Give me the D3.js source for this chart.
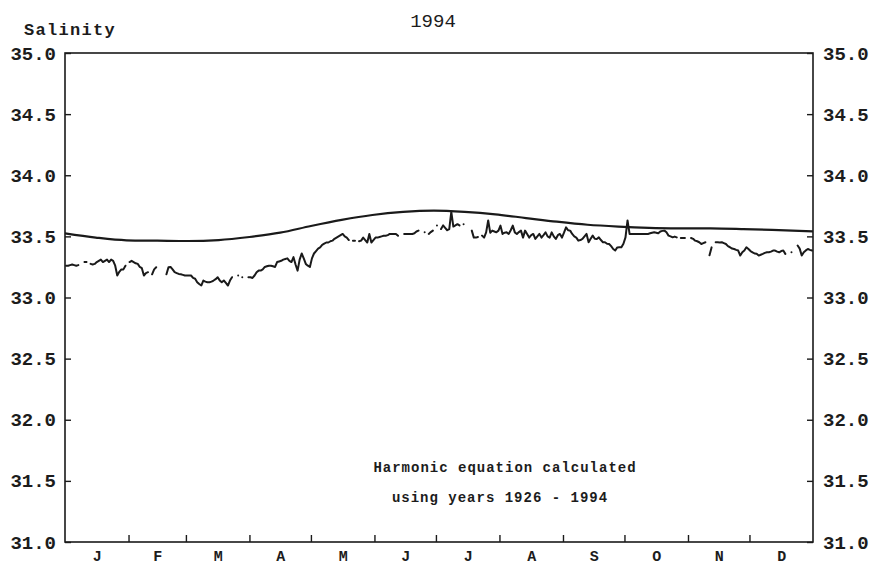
<!DOCTYPE html>
<html>
<head>
<meta charset="utf-8">
<script src="https://cdn.jsdelivr.net/npm/d3@7"></script>
<style>
  body { margin: 0; background: #fff; }
  svg text { font-family: "Liberation Mono", "DejaVu Sans Mono", monospace; fill: #1c1c1c; }
</style>
</head>
<body>
<svg width="871" height="567"></svg>
<script>
// month letters and the day each month starts (non leap year)
var months = ["J", "F", "M", "A", "M", "J", "J", "A", "S", "O", "N", "D"];
var monthStarts = [0, 31, 59, 90, 120, 151, 181, 212, 243, 273, 304, 334, 365];
var yTicks = [31.0, 31.5, 32.0, 32.5, 33.0, 33.5, 34.0, 34.5, 35.0];

// harmonic curve (1926-1994), read every 15 days
var harmonicDays = [0, 15, 30, 45, 60, 75, 90, 105, 120, 135, 150, 165, 180, 195, 210, 225, 240, 255, 270, 285, 300, 315, 330, 345, 365];
var harmonicVals = [33.525, 33.49, 33.468, 33.465, 33.462, 33.47, 33.495, 33.53, 33.585, 33.635, 33.675, 33.70, 33.71, 33.70, 33.68, 33.65, 33.62, 33.595, 33.58, 33.57, 33.566, 33.565, 33.56, 33.553, 33.54];

// daily salinity 1994, null = no observation
var daily = [
  33.26, 33.26, 33.265, 33.27, 33.265, 33.26, 33.265, null, null, 33.29,
  33.29, null, 33.275, 33.27, 33.275, 33.29, 33.30, 33.31, 33.29, 33.30,
  33.31, 33.29, 33.31, 33.30, 33.26, 33.18, 33.21, 33.23, 33.23, 33.26,
  null, 33.29, 33.30, 33.29, 33.28, 33.275, 33.25, 33.24, 33.18, 33.20,
  33.207, null, 33.19, 33.23, 33.247, null, null, null, null, 33.19,
  33.247, 33.25, 33.23, 33.207, 33.20, 33.193, 33.19, 33.185, 33.18, 33.18,
  33.18, 33.18, 33.16, 33.153, 33.125, 33.11, 33.098, 33.139, 33.13, 33.125,
  33.125, 33.13, 33.139, 33.15, 33.166, 33.14, 33.125, 33.139, 33.12, 33.098,
  33.139, 33.166, null, null, 33.18, null, 33.166, null, null, 33.166,
  33.166, 33.16, 33.18, 33.207, 33.22, 33.22, 33.23, 33.25, 33.255, 33.26,
  33.26, 33.255, 33.25, 33.29, 33.295, 33.30, 33.31, 33.315, 33.32, 33.30,
  33.29, 33.33, 33.27, 33.22, 33.31, 33.36, 33.32, 33.275, 33.26, 33.25,
  33.32, 33.36, 33.38, 33.40, 33.41, 33.43, 33.44, 33.45, 33.45, 33.46,
  33.465, 33.48, 33.49, 33.50, 33.51, 33.52, 33.50, 33.49, 33.47, null,
  33.465, 33.465, null, 33.46, 33.465, 33.49, 33.47, 33.45, 33.52, 33.45,
  33.47, 33.49, 33.49, 33.495, 33.50, 33.505, 33.505, 33.51, 33.52, 33.52,
  33.52, 33.52, 33.505, null, null, 33.52, 33.52, 33.52, 33.52, 33.52,
  33.525, 33.54, 33.547, null, null, 33.533, null, 33.52, 33.535, 33.547,
  null, 33.588, null, 33.56, 33.59, 33.57, 33.55, 33.56, 33.70, 33.58,
  33.59, 33.60, 33.59, null, 33.60, null, null, null, 33.547, 33.49,
  33.49, 33.495, null, 33.506, 33.49, 33.533, 33.63, 33.53, 33.547, 33.54,
  33.533, 33.547, 33.588, 33.52, 33.53, 33.533, 33.52, 33.55, 33.588, 33.533,
  33.52, 33.535, 33.547, 33.49, 33.547, 33.52, 33.49, 33.51, 33.52, 33.479,
  33.50, 33.52, 33.49, 33.51, 33.533, 33.50, 33.49, 33.533, 33.50, 33.479,
  33.51, 33.52, 33.49, 33.53, 33.574, 33.55, 33.547, 33.52, 33.50, 33.49,
  33.465, 33.47, 33.479, 33.50, 33.52, 33.452, 33.48, 33.506, 33.48, 33.479,
  33.492, 33.47, 33.452, 33.452, 33.44, 33.438, 33.42, 33.397, 33.384, 33.41,
  33.411, 33.411, 33.44, 33.492, 33.63, 33.52, 33.52, 33.52, 33.52, 33.52,
  33.52, 33.52, 33.52, 33.52, 33.52, 33.525, 33.53, 33.533, 33.53, 33.525,
  33.54, 33.545, 33.547, 33.533, 33.506, 33.50, 33.492, 33.498, 33.492, null,
  33.487, 33.487, 33.487, null, null, 33.487, 33.48, 33.465, 33.46, 33.452,
  33.438, 33.445, 33.452, null, 33.345, 33.41, null, 33.452, 33.452, 33.45,
  33.452, 33.445, 33.438, 33.42, 33.411, 33.40, 33.397, 33.39, 33.384, 33.343,
  33.37, 33.384, 33.411, 33.397, 33.38, 33.37, 33.36, 33.357, 33.343, 33.35,
  33.357, 33.365, 33.37, 33.37, 33.375, 33.384, 33.384, 33.375, 33.37, 33.38,
  33.384, 33.357, null, null, 33.37, null, null, 33.425, 33.40, 33.343,
  33.37, 33.385, 33.397, 33.39, 33.384
];

var drawChart = function() {
    var svg = d3.select("svg"),
        pl = 65, pr = 813, pt = 53, pb = 542;

    var x = d3.scaleLinear().domain([0, 365]).range([pl, pr]);
    var y = d3.scaleLinear().domain([31, 35]).range([pb, pt]);

    var ink = "#1a1a1a";

    // frame
    svg.append("rect")
        .attr("x", pl).attr("y", pt)
        .attr("width", pr - pl).attr("height", pb - pt)
        .style("fill", "none").style("stroke", ink).style("stroke-width", 1.6);

    // y axes, ticks pointing inward
    var yLeft = svg.append("g")
        .attr("transform", "translate(" + pl + ",0)")
        .call(d3.axisLeft(y).tickValues(yTicks).tickFormat(d3.format(".1f"))
            .tickSizeInner(-6).tickSizeOuter(0).tickPadding(9));
    var yRight = svg.append("g")
        .attr("transform", "translate(" + pr + ",0)")
        .call(d3.axisRight(y).tickValues(yTicks).tickFormat(d3.format(".1f"))
            .tickSizeInner(-6).tickSizeOuter(0).tickPadding(10));

    // month boundary ticks
    var xTicks = svg.append("g")
        .attr("transform", "translate(0," + pb + ")")
        .call(d3.axisBottom(x).tickValues(monthStarts.slice(1, 12)).tickFormat("")
            .tickSizeInner(-7).tickSizeOuter(0));

    // month letters at mid month
    var mids = months.map(function(m, i) { return (monthStarts[i] + monthStarts[i + 1]) / 2; });
    var xLabels = svg.append("g")
        .attr("transform", "translate(0," + pb + ")")
        .call(d3.axisBottom(x).tickValues(mids).tickFormat(function(d, i) { return months[i]; })
            .tickSize(0).tickPadding(8));

    [yLeft, yRight, xTicks, xLabels].forEach(function(g) {
        g.select(".domain").remove();
        g.selectAll("line").style("stroke", ink).style("stroke-width", 1.4);
        g.selectAll("text").style("font-family", "'Liberation Mono', monospace").style("fill", "#1c1c1c");
    });
    yLeft.selectAll("text").style("font-size", "19px").style("font-weight", "bold");
    yRight.selectAll("text").style("font-size", "19px").style("font-weight", "bold");
    xLabels.selectAll("text").style("font-size", "15px").style("font-weight", "bold");

    // harmonic line
    var harmonic = harmonicDays.map(function(d, i) { return [d, harmonicVals[i]]; });
    svg.append("path")
        .datum(harmonic)
        .attr("d", d3.line()
            .x(function(d) { return x(d[0]); })
            .y(function(d) { return y(d[1]); })
            .curve(d3.curveMonotoneX))
        .style("fill", "none").style("stroke", ink).style("stroke-width", 2.2);

    // daily observations, broken where missing
    svg.append("path")
        .datum(daily)
        .attr("d", d3.line()
            .defined(function(d) { return d != null; })
            .x(function(d, i) { return x(i + 0.5); })
            .y(function(d) { return y(d); }))
        .style("fill", "none").style("stroke", ink).style("stroke-width", 2)
        .style("stroke-linecap", "round").style("stroke-linejoin", "round");

    // titles and note
    svg.append("text").attr("x", 433).attr("y", 27)
        .attr("text-anchor", "middle").style("font-size", "19px").text("1994");
    svg.append("text").attr("x", 24).attr("y", 35)
        .style("font-size", "17px").style("letter-spacing", "1.3px")
        .style("font-weight", "bold").text("Salinity");
    svg.append("text").attr("x", 505).attr("y", 472)
        .attr("text-anchor", "middle").style("font-size", "14px").style("letter-spacing", "1px")
        .style("font-weight", "bold").text("Harmonic equation calculated");
    svg.append("text").attr("x", 500).attr("y", 502)
        .attr("text-anchor", "middle").style("font-size", "14px").style("letter-spacing", "1px")
        .style("font-weight", "bold").text("using years 1926 - 1994");
};

drawChart();
</script>
</body>
</html>
